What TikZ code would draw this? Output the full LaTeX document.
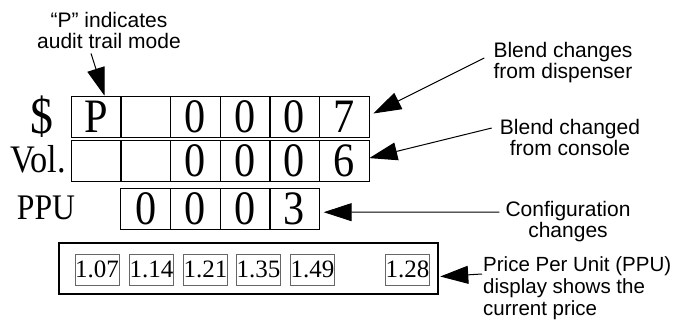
\documentclass[tikz,border=0pt]{standalone}
\usepackage{fontspec}
\setmainfont{Liberation Serif}
\setsansfont{Liberation Sans}
\newfontfamily\narrowserif[FakeStretch=0.88]{Liberation Serif}
\usetikzlibrary{arrows.meta}

\begin{document}
\begin{tikzpicture}[
  x=1pt,y=-1pt,
  every matrix/.style={ampersand replacement=\&,column sep=-1pt,inner sep=0pt},
  cell/.style={draw,semithick,minimum width=50pt,minimum height=41pt,inner sep=0pt,font=\narrowserif\fontsize{48}{48}\selectfont},
  rowname/.style={font=\narrowserif\fontsize{36}{36}\selectfont,inner sep=0pt},
  price/.style={draw=black!60,minimum width=44pt,minimum height=31pt,inner sep=0pt,font=\fontsize{25}{25}\selectfont},
  note/.style={font=\sffamily\fontsize{21}{21}\selectfont,align=center,inner sep=0pt},
  to/.style={-{Triangle[length=28pt,width=18pt]},line width=1pt}]

  \useasboundingbox (0,0) rectangle (675,335);

  % Position the digit cells using a matrix layout
  \matrix (grid) [anchor=north west] at (70.5,95.5) {
    \node[cell] (d1) {P}; \& \node[cell] (d2) {}; \& \node[cell] (d3) {0};
      \& \node[cell] (d4) {0}; \& \node[cell] (d5) {0}; \& \node[cell] (d6) {7}; \\[3pt]
    \node[cell] (v1) {}; \& \node[cell] (v2) {}; \& \node[cell] (v3) {0};
      \& \node[cell] (v4) {0}; \& \node[cell] (v5) {0}; \& \node[cell] (v6) {6}; \\[6pt]
    \& \node[cell] (p1) {0}; \& \node[cell] (p2) {0};
      \& \node[cell] (p3) {0}; \& \node[cell] (p4) {3}; \\
  };

  % Row names
  \node[rowname,font=\narrowserif\fontsize{52}{52}\selectfont] (dollar) at (42,117) {\$};
  \node[rowname,font=\narrowserif\fontsize{39}{39}\selectfont] (vol) at (38,159) {Vol.};
  \node[rowname] (ppu) at (46,208) {PPU};

  % Price per unit display
  \node[draw,line width=2.5pt,minimum width=379pt,minimum height=51pt] (ppubox) at (248.5,268.5) {};
  \foreach \val/\x [count=\i] in {1.07/97,1.14/151.5,1.21/205.5,1.35/258.5,1.49/312.5,1.28/407.5}
    \node[price] (pr\i) at (\x,269.5) {\val};

  % Notes
  \node[note] (audit) at (109,30) {“P” indicates\\audit trail mode};
  \node[note] (dispnote) at (563,63) {Blend changes\\from dispenser};
  \node[note] (consnote) at (570,137) {Blend changed\\from console};
  \node[note] (confnote) at (568,222) {Configuration\\changes};
  \node[note,align=left,anchor=west,font=\sffamily\fontsize{20.5}{22}\selectfont] (pricenote) at (483,288)
    {Price Per Unit (PPU)\\display shows the\\current price};

  % Draw the arrows from the notes
  \draw[to] ([shift={(-18,5)}]audit.south) -- ([shift={(8.5,0)}]d1.north);
  \draw[to] ([shift={(-9,-5)}]dispnote.west) -- ([shift={(4,-3)}]d6.east);
  \draw[to] ([shift={(-8,-9)}]consnote.west) -- ([shift={(0,-3)}]v6.east);
  \draw[to] ([shift={(-6,-10)}]confnote.west) -- ([shift={(4,3.5)}]p4.east);
  \draw[to] ([shift={(-1,-14)}]pricenote.west) -- ([shift={(1,8)}]ppubox.east);
\end{tikzpicture}
\end{document}
